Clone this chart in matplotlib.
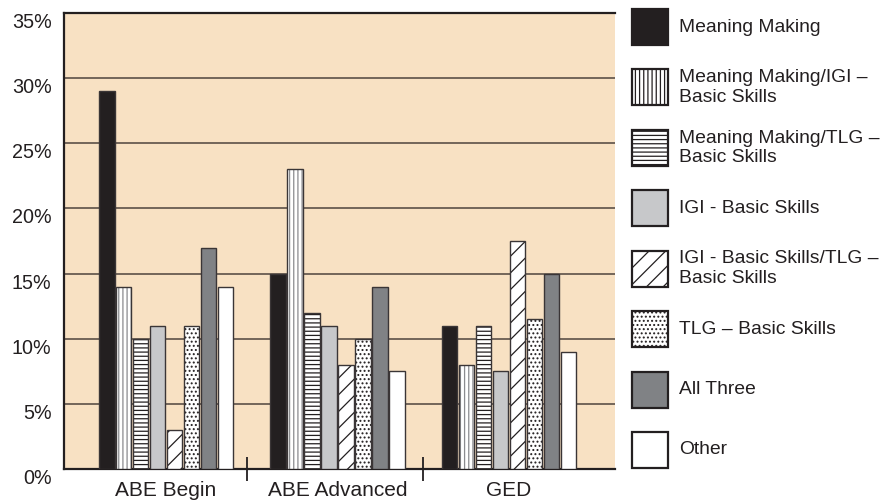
import matplotlib
matplotlib.use("Agg")
import matplotlib.pyplot as plt
import numpy as np
from matplotlib.patches import Rectangle, Patch
from matplotlib.ticker import FixedLocator

categories = ["ABE Begin", "ABE Advanced", "GED"]
series = ["Meaning Making", "Meaning Making/IGI \u2013\nBasic Skills",
          "Meaning Making/TLG \u2013\nBasic Skills", "IGI - Basic Skills",
          "IGI - Basic Skills/TLG \u2013\nBasic Skills", "TLG \u2013 Basic Skills",
          "All Three", "Other"]
meaning_making = [29, 15, 11]
mm_igi = [14, 23, 8]
mm_tlg = [10, 12, 11]
igi = [11, 11, 7.5]
igi_tlg = [3, 8, 17.5]
tlg = [11, 10, 11.5]
all_three = [17, 14, 15]
other = [14, 7.5, 9]
values = [meaning_making, mm_igi, mm_tlg, igi, igi_tlg, tlg, all_three, other]
y_ticks = [0, 5, 10, 15, 20, 25, 30, 35]

face = ['#231F20', 'white', 'white', '#C7C8CA', 'white', 'white', '#808285', 'white']
hatches = [None, '||||', '----', None, '//', '....', None, None]
hcolors = ['#231F20', '#8A8B8E', '#231F20', '#231F20', '#231F20', '#231F20', '#231F20', '#231F20']
edge = '#3A3536'
bg = '#F8E1C3'
txt = '#231F20'

plt.rcParams['font.family'] = ['Liberation Sans', 'DejaVu Sans']
plt.rcParams['hatch.linewidth'] = 0.9

has_hc = hasattr(Patch, 'set_hatchcolor')

fig = plt.figure(figsize=(8.93, 5.03), dpi=100)
ax = fig.add_axes([64/893, 1-469/503, (615-64)/893, (469-13)/503])
ax.set_facecolor(bg)

x = np.arange(len(categories))
slot = 0.099
width = 0.092
for i, vals in enumerate(values):
    pos = x + (i - 3.5) * slot
    if hatches[i] and not has_hc:
        ax.bar(pos, vals, width, color=face[i], hatch=hatches[i], edgecolor=hcolors[i], linewidth=0, zorder=3)
        ax.bar(pos, vals, width, fill=False, edgecolor=edge, linewidth=1.0, zorder=4)
    elif hatches[i]:
        ax.bar(pos, vals, width, color=face[i], hatch=hatches[i], edgecolor=edge,
               hatchcolor=hcolors[i], linewidth=1.0, zorder=3)
    else:
        ax.bar(pos, vals, width, color=face[i], edgecolor=edge, linewidth=1.0, zorder=3)

ax.set_xlim(-0.595, 2.618)
ax.set_ylim(0, 35)
ax.set_yticks(y_ticks)
ax.set_yticklabels([f"{v}%" for v in y_ticks])
for lab in ax.get_yticklabels():
    lab.set_va('top')
ax.tick_params(axis='y', length=0, pad=9, labelsize=14.2, labelcolor=txt)
ax.set_xticks(x)
ax.set_xticklabels(categories)
ax.tick_params(axis='x', which='major', length=0, pad=9, labelsize=15, labelcolor=txt)
ax.xaxis.set_minor_locator(FixedLocator([0.47, 1.5]))
ax.tick_params(axis='x', which='minor', direction='inout', length=17, width=1.3, color=txt)

for yv in y_ticks[1:-1]:
    ax.axhline(yv, color='#5C5048', lw=1.2, zorder=1)

for s in ['left', 'top', 'bottom']:
    ax.spines[s].set_color(txt)
    ax.spines[s].set_linewidth(1.6)
ax.spines['right'].set_visible(False)

# legend drawn manually in pixel layout
W, H = 893, 503
box = 36
step = (450 - 27) / 7
for i, name in enumerate(series):
    cy = 27 + i * step
    kw = dict(facecolor=face[i], edgecolor='#231F20', linewidth=1.6, transform=fig.transFigure)
    r = Rectangle((632/W, 1 - (cy + box/2)/H), box/W, box/H, **kw)
    if hatches[i]:
        r.set_hatch(hatches[i])
        if has_hc:
            r.set_hatchcolor('#231F20')
    fig.add_artist(r)
    fig.text(679/W, 1 - cy/H, name, ha='left', va='center', fontsize=13.9,
             color=txt, linespacing=1.2)

fig.savefig('out.png', dpi=100)
